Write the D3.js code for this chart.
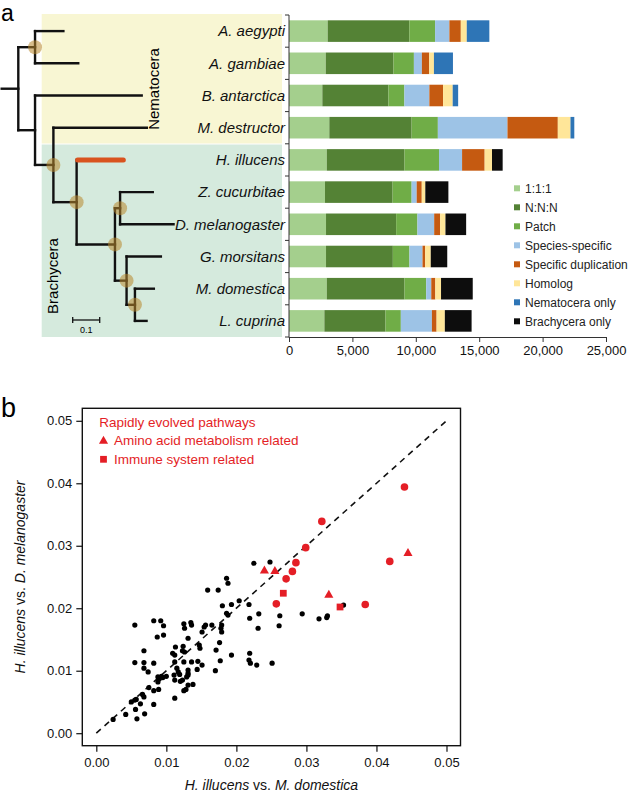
<!DOCTYPE html>
<html>
<head>
<meta charset="utf-8">
<script src="https://cdn.jsdelivr.net/npm/d3@7"></script>
<style>
  body { margin: 0; background: #fff; }
  svg { display: block; font-family: "Liberation Sans", Arial, sans-serif; }
</style>
</head>
<body>
<svg id="fig" width="630" height="794"></svg>
<script>
// ---------- panel a data ----------
var species = ["A. aegypti", "A. gambiae", "B. antarctica", "M. destructor", "H. illucens",
               "Z. cucurbitae", "D. melanogaster", "G. morsitans", "M. domestica", "L. cuprina"];
var categories = ["1:1:1", "N:N:N", "Patch", "Species-specific", "Specific duplication",
                  "Homolog", "Nematocera only", "Brachycera only"];
var catColors = ["#a4cf8d", "#548235", "#70ad47", "#9dc3e6", "#c55a11", "#ffe699", "#2e75b6", "#0d0d0d"];

// gene counts per species (same order as species)
var one2one        = [3050, 2900, 2630, 3180, 2980, 2840, 2920, 2920, 2980, 2790];
var nnn            = [6440, 5340, 5210, 6490, 6130, 5330, 5530, 5270, 6130, 4820];
var patch          = [2030, 1610, 1260, 2070, 2720, 1500, 1680, 1310, 1710, 1210];
var speciesSpec    = [1130,  630, 1970, 5490, 1820,  400, 1320, 1030,  400, 2450];
var specificDup    = [ 900,  580, 1080, 3970, 1780,  400,  470,  210,  320,  370];
var homolog        = [ 470,  370,  760, 1000,  580,  280,  420,  440,  450,  650];
var nematoceraOnly = [1780, 1500,  430,  300,    0,    0,    0,    0,    0,    0];
var brachyceraOnly = [   0,    0,    0,    0,  840, 1820, 1630, 1300, 2500, 2110];
var xTicksA = [0, 5000, 10000, 15000, 20000, 25000];

// phylogeny with branch lengths (subst/site), mark = node with circle
var tree = {len: 0, children: [
  {len: 0.062, mark: true, children: [
    {name: "A. aegypti", len: 0.105},
    {name: "A. gambiae", len: 0.160}]},
  {len: 0.062, children: [
    {name: "B. antarctica", len: 0.395},
    {len: 0.068, mark: true, children: [
      {name: "M. destructor", len: 0.346},
      {len: 0.086, mark: true, children: [
        {name: "H. illucens", len: 0.173, red: true},
        {len: 0.142, mark: true, children: [
          {len: 0.019, mark: true, children: [
            {name: "Z. cucurbitae", len: 0.121},
            {name: "D. melanogaster", len: 0.198}]},
          {len: 0.043, mark: true, children: [
            {name: "G. morsitans", len: 0.127},
            {len: 0.031, mark: true, children: [
              {name: "M. domestica", len: 0.070},
              {name: "L. cuprina", len: 0.043}]}]}]}]}]}]}
]};

// ---------- panel b data ----------
// [H. illucens vs M. domestica, H. illucens vs D. melanogaster]
var otherPathways = [
  [.0024,.0022],[.0042,.0030],[.0058,.0023],[.0069,.0031],[.0056,.0038],[.0082,.0046],[.0063,.0047],
  [.0050,.0050],[.0055,.0053],[.0057,.0054],[.0112,.0056],[.0068,.0058],[.0066,.0062],[.0082,.0068],
  [.0089,.0070],[.0075,.0073],[.0125,.0068],[.0128,.0070],[.0138,.0078],[.0131,.0077],[.0088,.0082],
  [.0120,.0083],[.0123,.0085],[.0112,.0085],[.0111,.0093],[.0088,.0090],[.0090,.0087],[.0093,.0091],
  [.0095,.0089],[.0100,.0091],[.0129,.0090],[.0131,.0093],[.0119,.0094],[.0117,.0098],[.0115,.0104],
  [.0131,.0101],[.0131,.0096],[.0144,.0102],[.0170,.0100],[.0074,.0098],[.0068,.0104],[.0068,.0113],
  [.0055,.0113],[.0082,.0112],[.0112,.0114],[.0125,.0114],[.0136,.0114],[.0145,.0115],[.0151,.0109],
  [.0177,.0116],[.0218,.0117],[.0220,.0112],[.0229,.0109],[.0251,.0112],[.0109,.0128],[.0112,.0125],
  [.0123,.0132],[.0126,.0130],[.0113,.0138],[.0124,.0139],[.0147,.0141],[.0148,.0136],[.0171,.0133],
  [.0193,.0125],[.0219,.0128],[.0068,.0132],[.0131,.0152],[.0176,.0145],[.0087,.0154],[.0096,.0157],
  [.0151,.0162],[.0154,.0170],[.0156,.0173],[.0165,.0173],[.0178,.0168],[.0179,.0162],[.0179,.0173],
  [.0125,.0175],[.0126,.0168],[.0135,.0177],[.0136,.0173],[.0055,.0173],[.0082,.0180],[.0092,.0180],
  [.0096,.0172],[.0231,.0168],[.0261,.0172],[.0262,.0188],[.0219,.0184],[.0232,.0191],[.0186,.0192],
  [.0188,.0189],[.0294,.0191],[.0318,.0183],[.0330,.0188],[.0329,.0185],[.0180,.0204],[.0193,.0206],
  [.0204,.0212],[.0218,.0206],[.0159,.0229],[.0174,.0229],[.0186,.0248],[.0188,.0240],[.0225,.0272],
  [.0248,.0274],[.0353,.0205]
];
var rapidOther = [
  [.0440,.0394],[.0322,.0339],[.0299,.0297],[.0285,.0273],[.0280,.0259],[.0271,.0247],
  [.0257,.0207],[.0384,.0206],[.0419,.0275]
];
var aminoAcid = [[.0240,.0260],[.0255,.0259],[.0332,.0221],[.0445,.0288]];
var immune = [[.0267,.0224],[.0348,.0202]];
var ticksB = [0, 0.01, 0.02, 0.03, 0.04, 0.05];

var red = "#e41e26";
var svg = d3.select("#fig");

// ================= panel a =================
svg.append("text").attr("x", 1).attr("y", 21).attr("font-size", 23).text("a");

// clade backgrounds
svg.append("rect").attr("x", 41.7).attr("y", 14).attr("width", 240.3).attr("height", 129.5).attr("fill", "#f8f6d3");
svg.append("rect").attr("x", 41.7).attr("y", 144.5).attr("width", 240.3).attr("height", 192.5).attr("fill", "#d5eadd");

var barY = d3.scaleBand().domain(species).range([15, 337]).paddingInner(0.33).paddingOuter(0.165);
var barX = d3.scaleLinear().domain([0, 25000]).range([289, 606]);

// stacked bars
var cols = [one2one, nnn, patch, speciesSpec, specificDup, homolog, nematoceraOnly, brachyceraOnly];
var table = species.map(function(s, i) {
  var row = {species: s};
  categories.forEach(function(c, j) { row[c] = cols[j][i]; });
  return row;
});
var stacked = d3.stack().keys(categories)(table);

svg.append("g").selectAll("g").data(stacked).join("g")
  .attr("fill", function(d, i) { return catColors[i]; })
  .selectAll("rect").data(function(d) { return d; }).join("rect")
  .attr("x", function(d) { return barX(d[0]); })
  .attr("width", function(d) { return barX(d[1]) - barX(d[0]); })
  .attr("y", function(d) { return barY(d.data.species); })
  .attr("height", barY.bandwidth());

// bar axes
var axA = svg.append("g").attr("stroke", "#333").attr("stroke-width", 1);
axA.append("line").attr("x1", 289).attr("x2", 289).attr("y1", 15).attr("y2", 337.5);
var bounds = species.map(function(s) { return barY(s) - barY.step() * 0.165; }).concat([337]);
axA.selectAll(".yt").data(bounds).join("line")
  .attr("x1", 285).attr("x2", 289).attr("y1", function(d) { return d; }).attr("y2", function(d) { return d; });

var xAxisA = svg.append("g").attr("transform", "translate(0,337)")
  .call(d3.axisBottom(barX).tickValues(xTicksA).tickFormat(d3.format(",")).tickSize(5).tickPadding(4));
xAxisA.select(".domain").attr("stroke", "#333");
xAxisA.selectAll(".tick line").attr("stroke", "#333");
xAxisA.selectAll("text").attr("font-size", 13).attr("fill", "#111").attr("font-family", "Liberation Sans, Arial, sans-serif");

// species labels
svg.append("g").selectAll("text").data(species).join("text")
  .attr("x", 285).attr("y", function(d) { return barY(d) + barY.bandwidth() / 2; })
  .attr("dy", "0.35em").attr("text-anchor", "end")
  .attr("font-size", 15).attr("font-style", "italic").attr("fill", "#111")
  .text(function(d) { return d; });

// legend
var leg = svg.append("g").selectAll("g").data(categories).join("g")
  .attr("transform", function(d, i) { return "translate(514," + (188.3 + i * 19) + ")"; });
leg.append("rect").attr("x", 0).attr("y", -3).attr("width", 6).attr("height", 6)
  .attr("fill", function(d, i) { return catColors[i]; });
leg.append("text").attr("x", 11).attr("dy", "0.35em").attr("font-size", 12).attr("fill", "#222")
  .text(function(d) { return d; });

// tree
var treeX = d3.scaleLinear().domain([0, 0.1]).range([18.3, 45.3]);
var root = d3.hierarchy(tree);
root.eachBefore(function(d) { d.px = d.parent ? d.parent.px + d.data.len : 0; });
root.eachAfter(function(d) {
  d.py = d.children
    ? (d.children[0].py + d.children[d.children.length - 1].py) / 2
    : barY(d.data.name) + barY.bandwidth() / 2;
});

var tg = svg.append("g").attr("fill", "none").attr("stroke", "#111").attr("stroke-width", 2.4)
  .attr("stroke-linecap", "square");
tg.append("path").attr("d", "M1.7," + root.py + "H" + treeX(0));
tg.selectAll(".h").data(root.descendants().filter(function(d) { return d.parent && !d.data.red; })).join("path")
  .attr("d", function(d) { return "M" + treeX(d.parent.px) + "," + d.py + "H" + treeX(d.px); });
tg.selectAll(".v").data(root.descendants().filter(function(d) { return d.children; })).join("path")
  .attr("d", function(d) {
    return "M" + treeX(d.px) + "," + d.children[0].py + "V" + d.children[d.children.length - 1].py;
  });
var redNode = root.leaves().filter(function(d) { return d.data.red; })[0];
svg.append("path")
  .attr("d", "M" + (treeX(redNode.parent.px) + 1) + "," + redNode.py + "H" + treeX(redNode.px))
  .attr("stroke", "#d9531e").attr("stroke-width", 5).attr("stroke-linecap", "round").attr("fill", "none");

svg.append("g").selectAll("circle").data(root.descendants().filter(function(d) { return d.data.mark; })).join("circle")
  .attr("cx", function(d) { return treeX(d.px); }).attr("cy", function(d) { return d.py; })
  .attr("r", 7).attr("fill", "#b8862b").attr("fill-opacity", 0.55);

// clade names
svg.append("text").attr("transform", "translate(154,89) rotate(-90)")
  .attr("text-anchor", "middle").attr("dy", "0.35em").attr("font-size", 15).text("Nematocera");
svg.append("text").attr("transform", "translate(53,276) rotate(-90)")
  .attr("text-anchor", "middle").attr("dy", "0.35em").attr("font-size", 15).text("Brachycera");

// scale bar
var sb = svg.append("g").attr("stroke", "#111").attr("stroke-width", 1.3);
var sb0 = 72.7, sb1 = 72.7 + treeX(0.1) - treeX(0);
sb.append("line").attr("x1", sb0).attr("x2", sb1).attr("y1", 320).attr("y2", 320);
sb.append("line").attr("x1", sb0).attr("x2", sb0).attr("y1", 317).attr("y2", 323);
sb.append("line").attr("x1", sb1).attr("x2", sb1).attr("y1", 317).attr("y2", 323);
svg.append("text").attr("x", (sb0 + sb1) / 2).attr("y", 333).attr("text-anchor", "middle")
  .attr("font-size", 9).text("0.1");

// ================= panel b =================
svg.append("text").attr("x", 1).attr("y", 417).attr("font-size", 27).text("b");

var sx = d3.scaleLinear().domain([-0.002, 0.052]).range([82.3, 460.5]);
var sy = d3.scaleLinear().domain([-0.002, 0.052]).range([745.7, 408.3]);

var xb = svg.append("g").attr("transform", "translate(0,745.7)")
  .call(d3.axisBottom(sx).tickValues(ticksB).tickFormat(d3.format(".2f")).tickSize(6).tickPadding(6));
var yb = svg.append("g").attr("transform", "translate(82.3,0)")
  .call(d3.axisLeft(sy).tickValues(ticksB).tickFormat(d3.format(".2f")).tickSize(6).tickPadding(4));
[xb, yb].forEach(function(g) {
  g.select(".domain").remove();
  g.selectAll(".tick line").attr("stroke", "#111").attr("stroke-width", 1.2);
  g.selectAll("text").attr("font-size", 13).attr("fill", "#111").attr("font-family", "Liberation Sans, Arial, sans-serif");
});

svg.append("rect").attr("x", 82.3).attr("y", 408.3).attr("width", 460.5 - 82.3).attr("height", 745.7 - 408.3)
  .attr("fill", "none").attr("stroke", "#111").attr("stroke-width", 1.4);

// y = x reference
svg.append("line").attr("x1", sx(0)).attr("y1", sy(0)).attr("x2", sx(0.05)).attr("y2", sy(0.05))
  .attr("stroke", "#111").attr("stroke-width", 1.6).attr("stroke-dasharray", "6,5");

svg.append("g").selectAll("circle").data(otherPathways).join("circle")
  .attr("cx", function(d) { return sx(d[0]); }).attr("cy", function(d) { return sy(d[1]); })
  .attr("r", 2.6).attr("fill", "#000");

svg.append("g").selectAll("circle").data(rapidOther).join("circle")
  .attr("cx", function(d) { return sx(d[0]); }).attr("cy", function(d) { return sy(d[1]); })
  .attr("r", 3.8).attr("fill", red);
svg.append("g").selectAll("path").data(aminoAcid).join("path")
  .attr("transform", function(d) { return "translate(" + sx(d[0]) + "," + sy(d[1]) + ")"; })
  .attr("d", d3.symbol(d3.symbolTriangle, 36)).attr("fill", red);
svg.append("g").selectAll("path").data(immune).join("path")
  .attr("transform", function(d) { return "translate(" + sx(d[0]) + "," + sy(d[1]) + ")"; })
  .attr("d", d3.symbol(d3.symbolSquare, 46)).attr("fill", red);

// legend b
svg.append("text").attr("x", 99.3).attr("y", 422.3).attr("dy", "0.35em").attr("font-size", 13.5)
  .attr("fill", red).text("Rapidly evolved pathways");
svg.append("path").attr("transform", "translate(103.5,441)").attr("d", d3.symbol(d3.symbolTriangle, 36)).attr("fill", red);
svg.append("text").attr("x", 114).attr("y", 440.7).attr("dy", "0.35em").attr("font-size", 13.5)
  .attr("fill", red).text("Amino acid metabolism related");
svg.append("path").attr("transform", "translate(103.5,459.3)").attr("d", d3.symbol(d3.symbolSquare, 46)).attr("fill", red);
svg.append("text").attr("x", 114).attr("y", 459.3).attr("dy", "0.35em").attr("font-size", 13.5)
  .attr("fill", red).text("Immune system related");

// axis titles
var xt = svg.append("text").attr("x", (sx(0) + sx(0.05)) / 2).attr("y", 790).attr("text-anchor", "middle")
  .attr("font-size", 14).attr("fill", "#111");
xt.append("tspan").attr("font-style", "italic").text("H. illucens");
xt.append("tspan").text(" vs. ");
xt.append("tspan").attr("font-style", "italic").text("M. domestica");

var yt = svg.append("text").attr("transform", "translate(25," + ((sy(0) + sy(0.05)) / 2) + ") rotate(-90)")
  .attr("text-anchor", "middle").attr("font-size", 14).attr("fill", "#111");
yt.append("tspan").attr("font-style", "italic").text("H. illucens");
yt.append("tspan").text(" vs. ");
yt.append("tspan").attr("font-style", "italic").text("D. melanogaster");
</script>
</body>
</html>
